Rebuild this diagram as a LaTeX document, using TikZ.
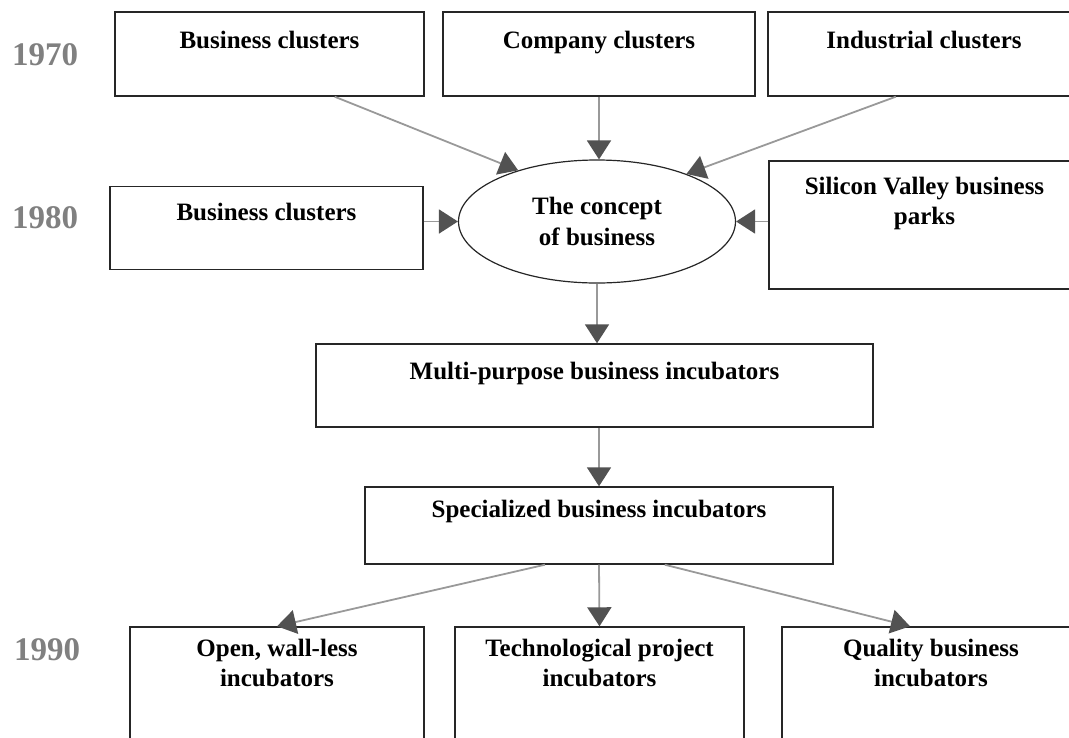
\documentclass[tikz,border=0pt]{standalone}
\usepackage{fontspec}
\setmainfont{Liberation Serif}
\usetikzlibrary{arrows.meta,shapes.geometric,calc}

\colorlet{link}{black!40}
\colorlet{tip}{black!68}
\colorlet{year}{black!50}
\tikzset{
  box/.style={rectangle,draw=black!85,line width=1.4pt,inner sep=0pt},
  idea/.style={ellipse,draw=black!85,line width=1.2pt,inner sep=0pt,
    minimum width=277pt,minimum height=123pt,align=center,
    font=\fontsize{25}{31}\selectfont\bfseries},
  caption/.style={font=\fontsize{25}{30}\selectfont\bfseries,align=center,inner sep=0pt,anchor=base},
  year/.style={font=\fontsize{33}{33}\selectfont\bfseries,text=year,inner sep=0pt,anchor=base west},
  flow/.style={draw=link,line width=1.8pt,-{Triangle[length=19pt,width=24pt,color=tip]}},
}

\begin{document}
\begin{tikzpicture}[x=1pt,y=-1pt]
      \clip (0,0) rectangle (1069,737);
      % years
      \node [year] (y70) at (12,65) {1970};
      \node [year] (y80) at (12,228) {1980};
      \node [year] (y90) at (14,660) {1990};
      % first row
      \node [box,minimum width=309pt,minimum height=84pt] (bc70) at (269.5,54) {};
      \node [box,minimum width=312pt,minimum height=84pt] (cc) at (599,54) {};
      \node [box,minimum width=312pt,minimum height=84pt] (ic) at (924,54) {};
      \node [caption,yshift=-37pt] (bc70t) at (bc70.north) {Business clusters};
      \node [caption,yshift=-37pt] (cct) at (cc.north) {Company clusters};
      \node [caption,yshift=-37pt] (ict) at (ic.north) {Industrial clusters};
      % second row
      \node [box,minimum width=313pt,minimum height=83pt] (bc80) at (266.5,228) {};
      \node [idea] (concept) at (597,221.5) {The concept\\of business};
      \node [box,minimum width=311pt,minimum height=128pt] (sv) at (924.5,225) {};
      \node [caption,yshift=-35pt] (bc80t) at (bc80.north) {Business clusters};
      \node [caption,yshift=-64pt] (svt) at (sv.north) {Silicon Valley business\\parks};
      % incubators
      \node [box,minimum width=557pt,minimum height=83pt] (multi) at (594.5,385.5) {};
      \node [box,minimum width=468pt,minimum height=77pt] (spec) at (599,525.5) {};
      \node [caption,yshift=-36pt] (multit) at (multi.north) {Multi-purpose business incubators};
      \node [caption,yshift=-31pt] (spect) at (spec.north) {Specialized business incubators};
      % last row
      \node [box,minimum width=294pt,minimum height=133pt] (open) at (277,693.5) {};
      \node [box,minimum width=289pt,minimum height=133pt] (tech) at (599.5,693.5) {};
      \node [box,minimum width=298pt,minimum height=133pt] (qual) at (931,693.5) {};
      \node [caption,yshift=-60pt] (opent) at (open.north) {Open, wall-less\\incubators};
      \node [caption,yshift=-60pt] (techt) at (tech.north) {Technological project\\incubators};
      \node [caption,yshift=-60pt] (qualt) at (qual.north) {Quality business\\incubators};
      % arrows
      \draw [flow] ($(bc70.south west)!0.71!(bc70.south east)$) -- (concept.147);
      \draw [flow] (cc.south) -- (cc.south |- concept.north);
      \draw [flow] ($(ic.south west)!0.41!(ic.south east)$) -- (concept.28);
      \draw [flow] (bc80.east |- concept.west) -- (concept.west);
      \draw [flow] (sv.west |- concept.east) -- (concept.east);
      \draw [flow] (concept.south) -- (concept.south |- multi.north);
      \draw [flow] (spec.north |- multi.south) -- (spec.north);
      \draw [flow] ($(spec.south west)!0.385!(spec.south east)$) -- (open.north);
      \draw [flow] (spec.south) -- (tech.north);
      \draw [flow] ($(spec.south west)!0.64!(spec.south east)$) -- ($(qual.north west)!0.43!(qual.north east)$);
    \end{tikzpicture}
\end{document}
